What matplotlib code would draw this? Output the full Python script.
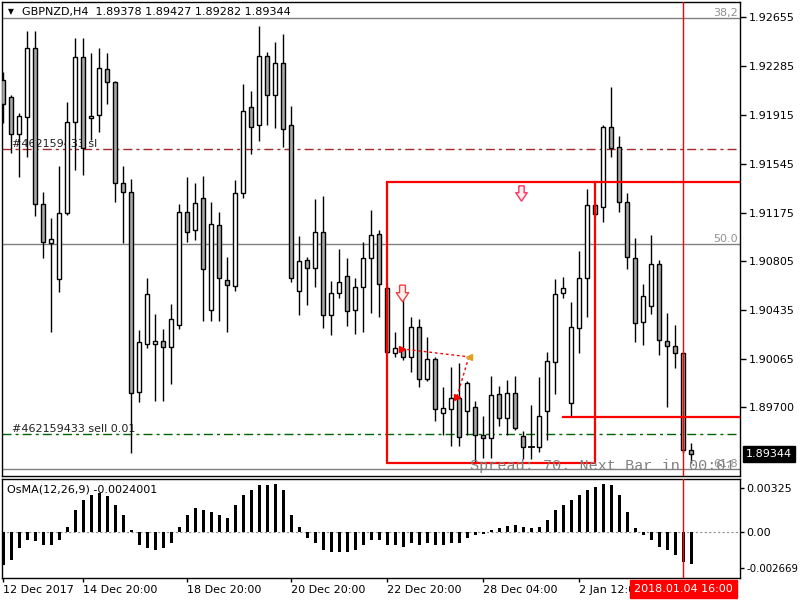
import matplotlib
matplotlib.use("Agg")
import matplotlib.pyplot as plt
from matplotlib.patches import Rectangle
from matplotlib.path import Path
import matplotlib.transforms as mtransforms

plt.rcParams['font.family'] = ['DejaVu Sans']
plt.rcParams['axes.unicode_minus'] = False

title_text = "GBPNZD,H4  1.89378 1.89427 1.89282 1.89344"

opens = [1.92178, 1.92050, 1.91770, 1.91898, 1.92420, 1.91240, 1.90945, 1.90673, 1.91172, 1.91860,
         1.92352, 1.91890, 1.91913, 1.92262, 1.92163, 1.91399, 1.91331, 1.89818, 1.90181, 1.90181,
         1.90204, 1.90158, 1.90325, 1.91180, 1.91043, 1.91285, 1.90438, 1.91081, 1.90665, 1.90620,
         1.91323, 1.91974, 1.91838, 1.92360, 1.92065, 1.92307, 1.91838, 1.90582, 1.90816, 1.90756,
         1.91028, 1.90400, 1.90567, 1.90695, 1.90438, 1.90612, 1.90831, 1.91013, 1.90605, 1.90112,
         1.90143, 1.90082, 1.90309, 1.89916, 1.90067, 1.89659, 1.89689, 1.89772, 1.89674, 1.89704,
         1.89492, 1.89469, 1.89803, 1.89621, 1.89810, 1.89484, 1.89401, 1.89401, 1.89674, 1.90045,
         1.90567, 1.89734, 1.90302, 1.90680, 1.91233, 1.91217, 1.91823, 1.91671, 1.91255, 1.90831,
         1.90347, 1.90468, 1.90786, 1.90204, 1.90166, 1.90112, 1.89378]
highs = [1.92239, 1.92065, 1.91929, 1.92549, 1.92549, 1.91331, 1.91134, 1.91528, 1.92012, 1.92496,
         1.92496, 1.92383, 1.92420, 1.92383, 1.92171, 1.91528, 1.91429, 1.90286, 1.90680, 1.90408,
         1.90294, 1.90483, 1.91240, 1.91444, 1.91399, 1.91452, 1.91255, 1.91180, 1.90839, 1.91422,
         1.92148, 1.92095, 1.92587, 1.92390, 1.92466, 1.92526, 1.91982, 1.90998, 1.90839, 1.91278,
         1.91301, 1.90657, 1.90900, 1.90831, 1.90680, 1.90952, 1.91195, 1.91043, 1.90620, 1.90271,
         1.90574, 1.90385, 1.90370, 1.90234, 1.90082, 1.89855, 1.90007, 1.90037, 1.89901, 1.89750,
         1.89636, 1.89939, 1.89863, 1.89908, 1.89939, 1.89522, 1.89719, 1.89931, 1.90120, 1.90673,
         1.90688, 1.90499, 1.90884, 1.91354, 1.91248, 1.91838, 1.92125, 1.91755, 1.91323, 1.90983,
         1.90635, 1.91006, 1.90816, 1.90415, 1.90325, 1.90120, 1.89427]
lows = [1.91853, 1.91626, 1.91444, 1.91596, 1.91149, 1.90831, 1.90271, 1.90574, 1.91157, 1.91497,
        1.91460, 1.91724, 1.91785, 1.91997, 1.91255, 1.90945, 1.89356, 1.89742, 1.90150, 1.89750,
        1.89750, 1.89878, 1.90294, 1.90952, 1.90967, 1.90355, 1.90355, 1.90355, 1.90271, 1.90582,
        1.91285, 1.91618, 1.91717, 1.91838, 1.91815, 1.91671, 1.90650, 1.90400, 1.90476, 1.90612,
        1.90302, 1.90249, 1.90529, 1.90317, 1.90256, 1.90271, 1.90415, 1.90385, 1.90112, 1.90082,
        1.90060, 1.89969, 1.89855, 1.89901, 1.89598, 1.89492, 1.89408, 1.89408, 1.89492, 1.89288,
        1.89318, 1.89318, 1.89560, 1.89492, 1.89530, 1.89311, 1.89311, 1.89363, 1.89454, 1.89803,
        1.90529, 1.89628, 1.90112, 1.90385, 1.91149, 1.91104, 1.91596, 1.91180, 1.90748, 1.90196,
        1.90173, 1.90408, 1.90098, 1.89704, 1.89999, 1.89356, 1.89282]
closes = [1.91997, 1.91770, 1.91906, 1.92420, 1.91240, 1.90952, 1.90975, 1.91172, 1.91860, 1.92352,
          1.91663, 1.91906, 1.92269, 1.92163, 1.91399, 1.91331, 1.89810, 1.90196, 1.90559, 1.90204,
          1.90158, 1.90370, 1.91180, 1.91028, 1.91248, 1.90748, 1.91089, 1.90680, 1.90627, 1.91323,
          1.91944, 1.91823, 1.92360, 1.92065, 1.92307, 1.91808, 1.90680, 1.90809, 1.90756, 1.91028,
          1.90400, 1.90567, 1.90650, 1.90430, 1.90612, 1.90831, 1.91006, 1.90635, 1.90120, 1.90150,
          1.90082, 1.90309, 1.89916, 1.90067, 1.89689, 1.89696, 1.89772, 1.89477, 1.89886, 1.89492,
          1.89469, 1.89795, 1.89621, 1.89810, 1.89545, 1.89401, 1.89401, 1.89636, 1.90052, 1.90559,
          1.90605, 1.90309, 1.90680, 1.91233, 1.91165, 1.91823, 1.91663, 1.91255, 1.90839, 1.90340,
          1.90544, 1.90786, 1.90211, 1.90166, 1.90112, 1.89378, 1.89344]
osma = [-0.00244, -0.00207, -0.00118, -0.00059, -0.00067, -0.00096, -0.00096, -0.00059, 0.00037, 0.00163,
        0.00236, 0.00273, 0.00288, 0.00266, 0.00200, 0.00126, 0.00015, -0.00096, -0.00118, -0.00133,
        -0.00118, -0.00081, 0.00037, 0.00126, 0.00177, 0.00163, 0.00148, 0.00126, 0.00103, 0.00200,
        0.00273, 0.00310, 0.00347, 0.00347, 0.00355, 0.00310, 0.00126, 0.00037, -0.00044, -0.00081,
        -0.00133, -0.00148, -0.00148, -0.00148, -0.00133, -0.00096, -0.00059, -0.00059, -0.00096, -0.00096,
        -0.00111, -0.00081, -0.00096, -0.00081, -0.00096, -0.00096, -0.00081, -0.00081, -0.00044, -0.00022,
        -0.00015, 0.00015, 0.00030, 0.00044, 0.00052, 0.00037, 0.00030, 0.00037, 0.00089, 0.00163,
        0.00200, 0.00236, 0.00273, 0.00310, 0.00333, 0.00355, 0.00347, 0.00273, 0.00148, 0.00030,
        -0.00022, -0.00059, -0.00111, -0.00133, -0.00170, -0.00222, -0.0024001]

price_ticks = [1.92655, 1.92285, 1.91915, 1.91545, 1.91175, 1.90805, 1.90435, 1.90065, 1.89700]
osma_ticks = [0.00325, 0.0, -0.002669]
osma_tick_labels = ["0.00325", "0.00", "-0.002669"]
time_label_bars = [0, 10, 23, 36, 48, 60, 72]
time_labels = ["12 Dec 2017", "14 Dec 20:00", "18 Dec 20:00", "20 Dec 20:00",
               "22 Dec 20:00", "28 Dec 04:00", "2 Jan 12:00"]
osma_label = "OsMA(12,26,9) -0.0024001"

fib_prices = [1.92647, 1.90937, 1.89235]
fib_labels = ["38,2", "50.0", "61,8"]
sl_price = 1.91656
sl_label = "#462159433 sl"
entry_price = 1.89498
entry_label = "#462159433 sell 0.01"
rect_bars = [48, 74]
rect_prices = [1.89282, 1.91406]
level_line_bar = 70
level_line_price = 1.89628
cross_bar = 85
cross_label = "2018.01.04 16:00"
bid_price = 1.89344
arrow_bars = [49.8, 64.7]
arrow_prices = [1.90567, 1.91323]
trade_bars = [49.8, 58.2, 56.7]
trade_prices = [1.90143, 1.90082, 1.89780]
spread_text = "Spread: 70. Next Bar in 00:01"

W, H = 800, 600
fig = plt.figure(figsize=(8, 6), dpi=100)
fig.patch.set_facecolor("white")

xl = (-0.1625, 92.09)
ax = fig.add_axes([2 / W, 1 - 476 / H, 738 / W, 474 / H])
ax.set_xlim(*xl)
ax.set_ylim(1.89180, 1.92769)
ax.set_xticks([])
ax.yaxis.tick_right()
ax.set_yticks(price_ticks)
ax.set_yticklabels([f"{p:.5f}" for p in price_ticks])
ax.tick_params(axis="y", direction="out", length=4, width=1, pad=2.2, labelsize=8, colors="black")
for s in ax.spines.values():
    s.set_linewidth(1.0)
    s.set_color("black")

# fib lines
for p, lab in zip(fib_prices, fib_labels):
    ax.axhline(p, color="#808080", lw=1.0, zorder=1)
    ax.text(0.997, p, lab, transform=mtransforms.blended_transform_factory(ax.transAxes, ax.transData),
            ha="right", va="bottom", fontsize=8, color="#909090")

# order lines
dd = (6.5, 2.9, 2.2, 2.9)
ax.axhline(sl_price, color="#A52A2A", lw=1.0, dashes=dd, zorder=1)
ax.axhline(entry_price, color="#006400", lw=1.0, dashes=dd, zorder=1)
bt = mtransforms.blended_transform_factory(ax.transAxes, ax.transData)
ax.text(10 / 738, sl_price, sl_label, transform=bt, ha="left", va="bottom", fontsize=8, color="#222222")
ax.text(10 / 738, entry_price, entry_label, transform=bt, ha="left", va="bottom", fontsize=8, color="#222222")

# candles
for i, (o, h, l, c) in enumerate(zip(opens, highs, lows, closes)):
    ax.plot([i, i], [l, h], color="black", lw=1.0, zorder=3, solid_capstyle="butt")
    if c == o:
        ax.plot([i - 0.28, i + 0.28], [c, c], color="black", lw=1.3, zorder=4)
    else:
        fc = "white" if c > o else "#A8A8A8"
        ax.add_patch(Rectangle((i - 0.26, min(o, c)), 0.52, abs(c - o), facecolor=fc,
                               edgecolor="black", lw=1.0, zorder=4))

# rectangle and lines
ax.add_patch(Rectangle((rect_bars[0], rect_prices[0]), rect_bars[1] - rect_bars[0],
                       rect_prices[1] - rect_prices[0], fill=False, edgecolor="red", lw=1.6, zorder=5))
ax.plot([rect_bars[1], xl[1]], [rect_prices[1], rect_prices[1]], color="red", lw=1.6, zorder=5)
ax.plot([level_line_bar, xl[1]], [level_line_price, level_line_price], color="red", lw=1.6, zorder=5)

# hollow down arrows
arrow_path = Path([(-0.35, 1.0), (0.35, 1.0), (0.35, 0.1), (0.75, 0.1), (0.0, -1.0),
                   (-0.75, 0.1), (-0.35, 0.1), (-0.35, 1.0)])
ax.plot(arrow_bars[0], arrow_prices[0], marker=arrow_path, markersize=12, markerfacecolor="#FFF0F0",
        markeredgecolor="#F04040", markeredgewidth=1.0, linestyle="none", zorder=6)
ax.plot(arrow_bars[1], arrow_prices[1], marker=arrow_path, markersize=11, markerfacecolor="#FFF0F0",
        markeredgecolor="#FF3060", markeredgewidth=1.0, linestyle="none", zorder=6)

# trade history
ax.plot(trade_bars[:2], trade_prices[:2], color="red", lw=1.0, linestyle=(0, (2, 2)), zorder=6)
ax.plot(trade_bars[1:], trade_prices[1:], color="red", lw=1.0, linestyle=(0, (2, 2)), zorder=6)
ax.plot(trade_bars[0], trade_prices[0], marker=">", markersize=5, color="red", zorder=7)
ax.plot(trade_bars[2], trade_prices[2], marker=">", markersize=5, color="red", zorder=7)
ax.plot(trade_bars[1], trade_prices[1], marker="<", markersize=5, color="#E0A020", zorder=7)

# crosshair
ax.axvline(cross_bar, color="red", lw=1.0, zorder=6)

# spread text
ax.text(468 / 738, 0.021, spread_text, transform=ax.transAxes, ha="left", va="center",
        fontsize=10.9, family="Liberation Mono", color="#808080", zorder=7)

# bid price box
ft = mtransforms.blended_transform_factory(fig.transFigure, ax.transData)
ax.text(746 / W, bid_price, f"{bid_price:.5f}", transform=ft, ha="left", va="center", fontsize=8,
        color="white", bbox=dict(facecolor="black", edgecolor="black", pad=2.2), clip_on=False)

# title
fig.text(11 / W, 1 - 12 / H, "\u25BC", fontsize=5.5, ha="center", va="center")
fig.text(22 / W, 1 - 12 / H, title_text, fontsize=8, ha="left", va="center")

# indicator
ax2 = fig.add_axes([2 / W, 1 - 578 / H, 738 / W, 99 / H])
ax2.set_xlim(*xl)
ax2.set_ylim(-0.00340, 0.00392)
ax2.bar(range(len(osma)), osma, width=0.38, color="black", zorder=3)
ax2.axhline(0.0, color="#909090", lw=0.8, linestyle=(0, (2, 2)), zorder=1)
ax2.axvline(cross_bar, color="red", lw=1.0, zorder=4)
ax2.yaxis.tick_right()
ax2.set_yticks(osma_ticks)
ax2.set_yticklabels(osma_tick_labels)
ax2.tick_params(axis="y", direction="out", length=3, width=1, pad=1.5, labelsize=8)
ax2.get_yticklabels()[2].set_fontsize(7.4)
ax2.set_xticks(time_label_bars)
ax2.set_xticklabels(time_labels, ha="left")
ax2.tick_params(axis="x", direction="out", length=3, width=1, pad=2, labelsize=8)
for lab in ax2.get_xticklabels():
    lab.set_horizontalalignment("left")
for s in ax2.spines.values():
    s.set_linewidth(1.0)
ax2.text(5 / 738, 0.94, osma_label, transform=ax2.transAxes, ha="left", va="top", fontsize=8)

ct = mtransforms.blended_transform_factory(ax2.transData, fig.transFigure)
ax2.text(cross_bar, 1 - 589 / H, cross_label, transform=ct, ha="center", va="center", fontsize=8,
         color="white", bbox=dict(facecolor="#FF0000", edgecolor="#FF0000", pad=3.0), clip_on=False, zorder=10)

fig.savefig("out.png", dpi=100)
